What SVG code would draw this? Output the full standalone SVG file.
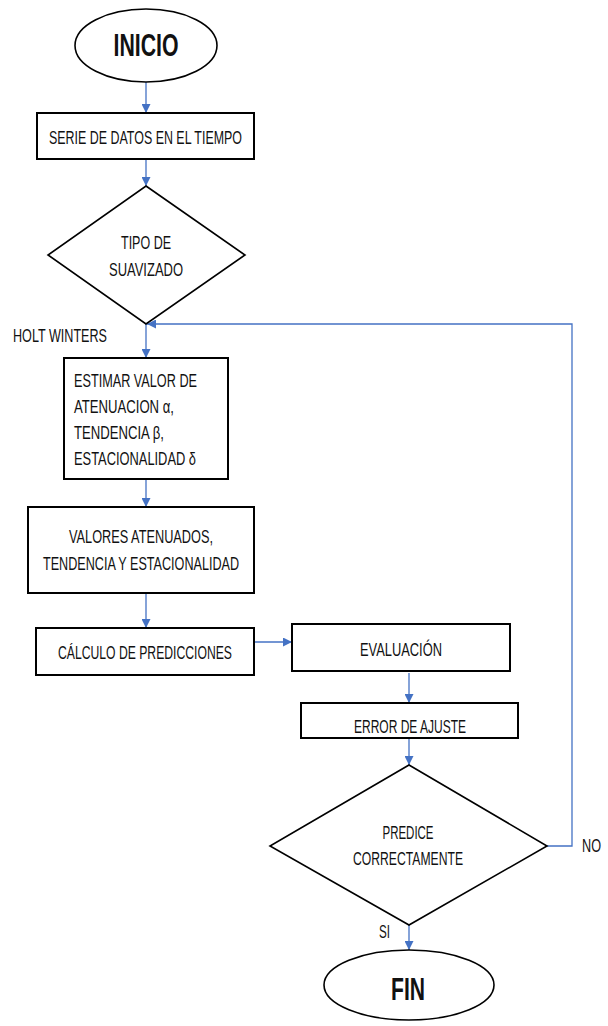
<svg xmlns="http://www.w3.org/2000/svg" width="608" height="1026" viewBox="0 0 608 1026">
<style>
.box{fill:#fff;stroke:#000;stroke-width:2}
.shape{fill:#fff;stroke:#000;stroke-width:1.6}
.t{font-family:"Liberation Sans",Arial,sans-serif;font-size:18px;fill:#111}
.c{text-anchor:middle}
.b{font-weight:bold;font-size:31px}
.con{fill:none;stroke:#4472C4;stroke-width:1.3}
</style>
<defs>
<marker id="ah" markerUnits="userSpaceOnUse" markerWidth="10" markerHeight="9" refX="9" refY="4.5" orient="auto">
<path d="M0,0 L9,4.5 L0,9 z" fill="#4472C4"/>
</marker>
</defs>
<g id="connectors">
<line class="con" x1="146" y1="82" x2="146" y2="113" marker-end="url(#ah)"/>
<line class="con" x1="146" y1="159" x2="146" y2="186" marker-end="url(#ah)"/>
<line class="con" x1="146" y1="324" x2="146" y2="358" marker-end="url(#ah)"/>
<line class="con" x1="146" y1="479" x2="146" y2="507" marker-end="url(#ah)"/>
<line class="con" x1="146" y1="593" x2="146" y2="628" marker-end="url(#ah)"/>
<line class="con" x1="254" y1="642" x2="292" y2="642" marker-end="url(#ah)"/>
<line class="con" x1="409" y1="673" x2="409" y2="703" marker-end="url(#ah)"/>
<line class="con" x1="409" y1="738" x2="409" y2="765" marker-end="url(#ah)"/>
<polyline class="con" points="547,846 572,846 572,324 147,324" marker-end="url(#ah)"/>
<line class="con" x1="409" y1="925" x2="409" y2="950" marker-end="url(#ah)"/>
<text class="t" x="13" y="342" textLength="94" lengthAdjust="spacingAndGlyphs">HOLT WINTERS</text>
<text class="t" x="582" y="852" textLength="19" lengthAdjust="spacingAndGlyphs">NO</text>
<text class="t" x="379" y="938" textLength="11" lengthAdjust="spacingAndGlyphs">SI</text>
</g>
<g id="inicio">
<ellipse class="shape" cx="146" cy="45.5" rx="71" ry="36.5"/>
<text class="t c b" x="146" y="56" textLength="65" lengthAdjust="spacingAndGlyphs">INICIO</text>
</g>
<g id="serie">
<rect class="box" x="37" y="113" width="217" height="46"/>
<text class="t c" x="145.5" y="144" textLength="193" lengthAdjust="spacingAndGlyphs">SERIE DE DATOS EN EL TIEMPO</text>
</g>
<g id="tipo">
<polygon class="shape" points="146,186 245,255 146,324 48,255"/>
<text class="t c" x="146" y="249" textLength="50" lengthAdjust="spacingAndGlyphs">TIPO DE</text>
<text class="t c" x="146" y="276" textLength="74" lengthAdjust="spacingAndGlyphs">SUAVIZADO</text>
</g>
<g id="estimar">
<rect class="box" x="64" y="358" width="164" height="121"/>
<text class="t" x="74" y="387" textLength="123" lengthAdjust="spacingAndGlyphs">ESTIMAR VALOR DE</text>
<text class="t" x="74" y="413" textLength="100" lengthAdjust="spacingAndGlyphs">ATENUACION α,</text>
<text class="t" x="74" y="439" textLength="90" lengthAdjust="spacingAndGlyphs">TENDENCIA β,</text>
<text class="t" x="74" y="465" textLength="122" lengthAdjust="spacingAndGlyphs">ESTACIONALIDAD δ</text>
</g>
<g id="valores">
<rect class="box" x="28" y="507" width="226" height="86"/>
<text class="t c" x="141" y="543" textLength="144" lengthAdjust="spacingAndGlyphs">VALORES ATENUADOS,</text>
<text class="t c" x="141" y="570" textLength="196" lengthAdjust="spacingAndGlyphs">TENDENCIA Y ESTACIONALIDAD</text>
</g>
<g id="calculo">
<rect class="box" x="36" y="628" width="218" height="47"/>
<text class="t c" x="145" y="659" textLength="174" lengthAdjust="spacingAndGlyphs">CÁLCULO DE PREDICCIONES</text>
</g>
<g id="evaluacion">
<rect class="box" x="292" y="624" width="218" height="47"/>
<text class="t c" x="401" y="656" textLength="82" lengthAdjust="spacingAndGlyphs">EVALUACIÓN</text>
</g>
<g id="error">
<rect class="box" x="301" y="703" width="217" height="35"/>
<text class="t c" x="410" y="733" textLength="112" lengthAdjust="spacingAndGlyphs">ERROR DE AJUSTE</text>
</g>
<g id="predice">
<polygon class="shape" points="409,765 547,846 409,925 270,846"/>
<text class="t c" x="408" y="839" textLength="51" lengthAdjust="spacingAndGlyphs">PREDICE</text>
<text class="t c" x="408" y="865" textLength="110" lengthAdjust="spacingAndGlyphs">CORRECTAMENTE</text>
</g>
<g id="fin">
<ellipse class="shape" cx="409" cy="985" rx="85" ry="35"/>
<text class="t c b" x="408" y="1000" textLength="34" lengthAdjust="spacingAndGlyphs">FIN</text>
</g>
</svg>
